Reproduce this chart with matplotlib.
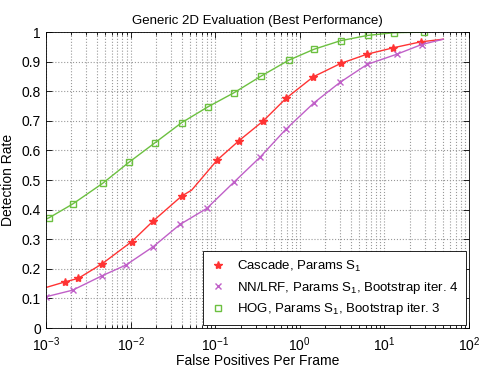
import matplotlib
matplotlib.use("Agg")
import matplotlib.pyplot as plt
from matplotlib.lines import Line2D
from matplotlib.ticker import LogLocator, NullFormatter

plt.rcParams['font.family'] = ['Liberation Sans', 'DejaVu Sans']
plt.rcParams['mathtext.fontset'] = 'custom'
plt.rcParams['mathtext.rm'] = 'Liberation Sans'
plt.rcParams['mathtext.it'] = 'Liberation Sans:italic'

# values (x in log10 of false positives per frame)
cascade_logx = [-3.0, -2.775, -2.618, -2.342, -1.987, -1.732, -1.396, -1.278,
                -0.975, -0.719, -0.431, -0.163, 0.160, 0.483, 0.791, 1.105,
                1.429, 1.697]
cascade_y = [0.137, 0.156, 0.168, 0.216, 0.292, 0.362, 0.446, 0.466,
             0.568, 0.633, 0.700, 0.776, 0.849, 0.894, 0.925, 0.947,
             0.967, 0.976]
cascade_marks = [1, 2, 3, 4, 5, 6, 8, 9, 10, 11, 12, 13, 14, 15, 16]

nnlrf_logx = [-2.995, -2.685, -2.342, -2.054, -1.732, -1.416, -1.100,
              -0.778, -0.470, -0.163, 0.168, 0.475, 0.798, 1.145, 1.441, 1.697]
nnlrf_y = [0.106, 0.128, 0.176, 0.213, 0.275, 0.350, 0.404, 0.493,
           0.577, 0.672, 0.761, 0.830, 0.891, 0.925, 0.958, 0.976]
nnlrf_marks = list(range(0, 15))

hog_logx = [-2.985, -2.961, -2.685, -2.330, -2.015, -1.712, -1.396, -1.082,
            -0.778, -0.459, -0.131, 0.168, 0.483, 0.806, 1.117, 1.464]
hog_y = [0.370, 0.373, 0.419, 0.489, 0.561, 0.626, 0.694, 0.748,
         0.795, 0.851, 0.905, 0.942, 0.971, 0.989, 0.998, 1.0]
hog_marks = list(range(1, 16))

yticks = [0, 0.1, 0.2, 0.3, 0.4, 0.5, 0.6, 0.7, 0.8, 0.9, 1]
ytick_labels = ['0', '0.1', '0.2', '0.3', '0.4', '0.5', '0.6', '0.7',
                '0.8', '0.9', '1']

labels = [r'Cascade, Params S$_\mathregular{1}$',
          r'NN/LRF, Params S$_\mathregular{1}$, Bootstrap iter. 4',
          r'HOG, Params S$_\mathregular{1}$, Bootstrap iter. 3']

red = '#ff3333'
purple = '#c060c8'
green = '#6cc040'


def main():
    fig = plt.figure(figsize=(4.79, 3.69), dpi=100)
    ax = fig.add_axes([0.096, 0.111, 0.883, 0.802])

    series = [
        (cascade_logx, cascade_y, cascade_marks, red, '*', 6, 'full'),
        (nnlrf_logx, nnlrf_y, nnlrf_marks, purple, 'x', 4.5, 'full'),
        (hog_logx, hog_y, hog_marks, green, 's', 5, 'none'),
    ]
    handles = []
    for (lx, y, marks, col, mk, ms, fill), lab in zip(series, labels):
        x = [10 ** v for v in lx]
        ax.plot(x, y, color=col, lw=1.0, marker=mk, ms=ms, markevery=marks,
                mfc=col if fill == 'full' else 'none', mec=col, mew=1.0)
        handles.append(Line2D([], [], ls='none', marker=mk, ms=ms, color=col,
                              mfc=col if fill == 'full' else 'none', mec=col))

    ax.set_xscale('log')
    ax.set_xlim(1e-3, 1e2)
    ax.set_ylim(0, 1)
    ax.set_yticks(yticks)
    ax.set_yticklabels(ytick_labels)
    ax.xaxis.set_minor_locator(LogLocator(base=10, subs=range(2, 10)))
    ax.xaxis.set_minor_formatter(NullFormatter())
    ax.grid(True, which='major', ls=':', color='#999999', lw=0.8)
    ax.grid(True, which='minor', axis='x', ls=':', color='#999999', lw=0.8)
    ax.tick_params(which='both', direction='in', top=True, right=True,
                   labelsize=10, width=0.6)
    ax.tick_params(which='major', length=4)
    ax.tick_params(which='minor', length=2)
    ax.tick_params(axis='x', pad=5)
    for s in ax.spines.values():
        s.set_linewidth(0.6)

    ax.set_xlabel('False Positives Per Frame', fontsize=10, labelpad=0)
    ax.set_ylabel('Detection Rate', fontsize=10, labelpad=5)
    ax.set_title('Generic 2D Evaluation (Best Performance)', fontsize=9.5, pad=6)

    leg = ax.legend(handles, labels, loc='lower right', fontsize=9.5,
                    fancybox=False, edgecolor='black', framealpha=1,
                    handlelength=1.2, borderaxespad=0.25, labelspacing=0.45,
                    borderpad=0.55)
    leg.get_frame().set_linewidth(0.6)

    fig.savefig('out.png', dpi=100)


main()
